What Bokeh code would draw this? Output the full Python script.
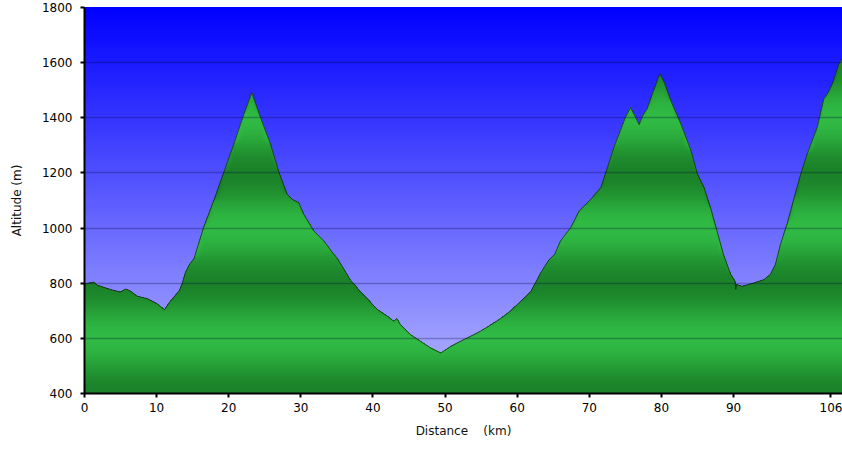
import numpy as np
from bokeh.plotting import figure
from bokeh.models import Range1d, FixedTicker
from bokeh.embed import file_html
from bokeh.resources import INLINE

distance_km = [0, 1.3, 1.75, 3.6, 5.0, 5.7, 6.4, 7.3, 8.7, 10.1, 10.5, 11.1, 11.9, 13.1, 13.5,
               14.0, 14.6, 15.2, 16.5, 17.9, 19.3, 20.7, 22.1, 23.2, 24.4, 25.8, 26.9, 28.1,
               28.8, 29.7, 30.4, 31.8, 33.2, 34.4, 35.0, 36.0, 36.9, 37.3, 38.3, 39.2, 40.1,
               40.6, 42.0, 42.9, 43.3, 43.8, 45.2, 46.6, 48.0, 49.4, 50.8, 52.1, 53.5, 54.9,
               56.3, 57.7, 59.1, 60.5, 61.9, 63.2, 64.4, 65.2, 66.0, 67.4, 68.6, 69.3, 70.4,
               71.6, 72.5, 73.4, 74.3, 75.0, 75.7, 76.3, 76.9, 77.4, 78.0, 78.9, 79.6, 79.8,
               80.4, 81.3, 82.7, 84.1, 85.0, 85.9, 86.8, 87.7, 88.6, 89.6, 90.2, 90.3, 90.4,
               91.2, 92.8, 94.2, 95.1, 95.8, 96.5, 97.4, 98.4, 99.3, 100.2, 101.6, 102.5,
               103.0, 103.7, 104.6, 105.1]
altitude_m = [797, 804, 793, 777, 768, 779, 771, 753, 744, 725, 716, 704, 735, 771, 795,
              840, 870, 890, 1001, 1098, 1201, 1304, 1413, 1492, 1401, 1304, 1207, 1123,
              1104, 1092, 1050, 989, 953, 910, 892, 850, 810, 800, 767, 745, 718,
              705, 680, 662, 672, 650, 613, 589, 565, 547, 571, 589, 607, 626,
              648, 672, 700, 735, 770, 835, 885, 905, 953, 1001, 1062, 1080, 1110,
              1147, 1219, 1292, 1353, 1401, 1437, 1407, 1375, 1407, 1432, 1498, 1547, 1559,
              1528, 1462, 1377, 1280, 1195, 1147, 1074, 989, 904, 832, 807, 778, 795,
              789, 801, 813, 832, 868, 941, 1013, 1110, 1195, 1268, 1365, 1468,
              1486, 1523, 1595, 1619]
y_ticks = [400, 600, 800, 1000, 1200, 1400, 1600, 1800]
x_ticks = [0, 10, 20, 30, 40, 50, 60, 70, 80, 90]
end_label = "106"
end_label_pos = 103.5

Y0, Y1 = 400, 1800
X1 = 105.1

p = figure(width=842, height=451, output_backend="svg", toolbar_location=None,
           x_range=Range1d(0, X1), y_range=Range1d(Y0, Y1),
           min_border_left=84, min_border_right=0, min_border_top=7, min_border_bottom=58)
p.outline_line_color = None
p.background_fill_color = "#0000ff"
p.border_fill_color = "white"

x = np.array(distance_km, dtype=float)
alt = np.array(altitude_m, dtype=float)

# ---- sky gradient (style strips) ----
step = 7.0
bots = np.arange(Y0, Y1, step)
def sky_col(v):
    t = (v - Y0) / (Y1 - Y0)  # 0 at bottom, 1 at top
    c = int(round(184 * (1 - t)))
    return "#%02x%02x%02x" % (c, c, 255)
p.quad(left=0, right=X1, bottom=bots, top=Y1,
       fill_color=[sky_col(b + step / 2) for b in bots], line_color=None)

# ---- ground gradient (banded green), clipped under the profile ----
bright = np.array([48, 186, 68])
dark = np.array([27, 130, 41])
def ground_col(v):
    t = 0.5 - 0.5 * np.cos((v - Y0) / 400.0 * 2 * np.pi)
    c = dark + (bright - dark) * t
    return "#%02x%02x%02x" % tuple(int(round(k)) for k in c)
tops = np.arange(Y1, Y0, -step)
xs, ys, cols = [], [], []
for tp in tops:
    if tp - step > alt.max():
        continue
    xs.append(np.concatenate([x, x[::-1]]))
    ys.append(np.concatenate([np.minimum(alt, tp), np.full(len(x), float(Y0))]))
    cols.append(ground_col(tp - step / 2))
p.patches(xs, ys, fill_color=cols, line_color=None)

# profile outline
p.line(x, alt, line_color="#1a1a1a", line_alpha=0.7, line_width=1)

# ---- grid ----
p.xgrid.visible = False
p.ygrid.ticker = FixedTicker(ticks=[600, 800, 1000, 1200, 1400, 1600])
p.ygrid.grid_line_color = "#000040"
p.ygrid.grid_line_alpha = 0.28
p.ygrid.grid_line_width = 1.5
p.ygrid.level = "overlay"

# ---- axes ----
font = "DejaVu Sans"
for ax in (p.xaxis[0], p.yaxis[0]):
    ax.axis_line_color = "black"
    ax.axis_line_width = 2
    ax.major_tick_line_color = "black"
    ax.major_tick_line_width = 2
    ax.major_tick_out = 4
    ax.major_tick_in = 0
    ax.minor_tick_line_color = None
    ax.major_label_text_font = font
    ax.major_label_text_font_size = "12px"
    ax.major_label_text_color = "black"
    ax.axis_label_text_font = font
    ax.axis_label_text_font_size = "12px"
    ax.axis_label_text_font_style = "normal"
    ax.axis_label_text_color = "#111111"

p.yaxis.ticker = FixedTicker(ticks=y_ticks)
p.xaxis.ticker = FixedTicker(ticks=x_ticks + [end_label_pos])
p.xaxis.major_label_overrides = {end_label_pos: end_label}
p.yaxis.major_label_standoff = 8
p.xaxis.major_label_standoff = 5
p.yaxis.axis_label = "Altitude (m)"
p.xaxis.axis_label = "Distance\u00a0\u00a0\u00a0\u00a0(km)"
p.yaxis.axis_label_standoff = 15
p.xaxis.axis_label_standoff = 9

open("out.html", "w").write(file_html(p, INLINE))
